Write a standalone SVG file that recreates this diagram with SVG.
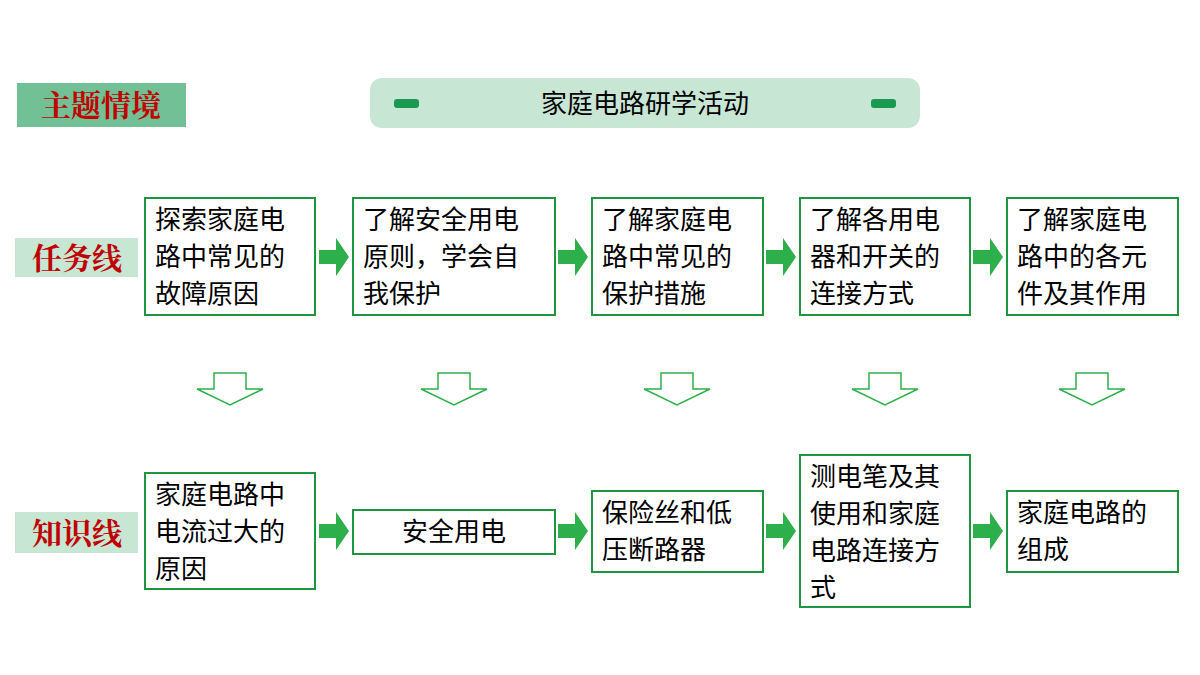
<svg xmlns="http://www.w3.org/2000/svg" width="1200" height="675" viewBox="0 0 1200 675">
<style>
.box{fill:#fff;stroke:#1e9640;stroke-width:2}
.t{font-family:"Noto Sans CJK SC",sans-serif;font-size:26px;fill:#000}
.lab{font-family:"Noto Serif CJK SC","Noto Sans CJK SC",serif;font-weight:bold;font-size:30px;fill:#c00000}
.arr{fill:#2db04b}
.down{fill:#fff;stroke:#2db04b;stroke-width:1.5}
</style>
<rect width="1200" height="675" fill="#fff"/>
<g id="theme"><rect x="17" y="83" width="169" height="44" fill="#72c196"/><text class="lab" x="101" y="116" text-anchor="middle">主题情境</text></g>
<g id="title"><rect x="370" y="78" width="550" height="50" rx="12" fill="#c8e6d4"/><rect x="394" y="99" width="25" height="9" rx="3" fill="#1a9a50"/><rect x="871" y="99" width="25" height="9" rx="3" fill="#1a9a50"/><text class="t" x="645" y="113" text-anchor="middle" font-size="28">家庭电路研学活动</text></g>
<g id="taskline"><rect x="15" y="238" width="123" height="39" fill="#c8e6d4"/><text class="lab" x="77" y="269" text-anchor="middle">任务线</text></g>
<g id="knowline"><rect x="15" y="512" width="123" height="41" fill="#c8e6d4"/><text class="lab" x="77" y="544" text-anchor="middle">知识线</text></g>
<g id="t1"><rect class="box" x="145" y="198" width="170" height="117"/><text class="t" x="155" y="229">探索家庭电<tspan x="155" dy="37">路中常见的</tspan><tspan x="155" dy="37">故障原因</tspan></text></g>
<g id="t2"><rect class="box" x="353" y="198" width="202" height="117"/><text class="t" x="363" y="229">了解安全用电<tspan x="363" dy="37">原则，学会自</tspan><tspan x="363" dy="37">我保护</tspan></text></g>
<g id="t3"><rect class="box" x="592" y="198" width="171" height="117"/><text class="t" x="602" y="229">了解家庭电<tspan x="602" dy="37">路中常见的</tspan><tspan x="602" dy="37">保护措施</tspan></text></g>
<g id="t4"><rect class="box" x="800" y="198" width="170" height="117"/><text class="t" x="810" y="229">了解各用电<tspan x="810" dy="37">器和开关的</tspan><tspan x="810" dy="37">连接方式</tspan></text></g>
<g id="t5"><rect class="box" x="1007" y="198" width="171" height="117"/><text class="t" x="1017" y="229">了解家庭电<tspan x="1017" dy="37">路中的各元</tspan><tspan x="1017" dy="37">件及其作用</tspan></text></g>
<g id="k1"><rect class="box" x="145" y="473" width="170" height="116"/><text class="t" x="155" y="504">家庭电路中<tspan x="155" dy="37">电流过大的</tspan><tspan x="155" dy="37">原因</tspan></text></g>
<g id="k2"><rect class="box" x="353" y="510" width="202" height="44"/><text class="t" x="454" y="541" text-anchor="middle">安全用电</text></g>
<g id="k3"><rect class="box" x="592" y="491" width="171" height="81"/><text class="t" x="602" y="522">保险丝和低<tspan x="602" dy="37">压断路器</tspan></text></g>
<g id="k4"><rect class="box" x="800" y="455" width="170" height="152"/><text class="t" x="810" y="486">测电笔及其<tspan x="810" dy="37">使用和家庭</tspan><tspan x="810" dy="37">电路连接方</tspan><tspan x="810" dy="37">式</tspan></text></g>
<g id="k5"><rect class="box" x="1007" y="491" width="171" height="81"/><text class="t" x="1017" y="522">家庭电路的<tspan x="1017" dy="37">组成</tspan></text></g>
<defs>
<path id="ra" d="M0,-7 H17 V-19 L30,0 L17,19 V7 H0 Z"/>
<path id="da" d="M-16,0 H16 V16 H33 L0,32 L-33,16 H-16 Z"/>
</defs>
<g id="connectors">
<use href="#ra" class="arr" x="319" y="257"/><use href="#ra" class="arr" x="558" y="257"/><use href="#ra" class="arr" x="766" y="257"/><use href="#ra" class="arr" x="973" y="257"/>
<use href="#ra" class="arr" x="319" y="531"/><use href="#ra" class="arr" x="558" y="531"/><use href="#ra" class="arr" x="766" y="531"/><use href="#ra" class="arr" x="973" y="531"/>
<use href="#da" class="down" x="230" y="373"/><use href="#da" class="down" x="454" y="373"/><use href="#da" class="down" x="677" y="373"/><use href="#da" class="down" x="885" y="373"/><use href="#da" class="down" x="1092" y="373"/>
</g>
</svg>
